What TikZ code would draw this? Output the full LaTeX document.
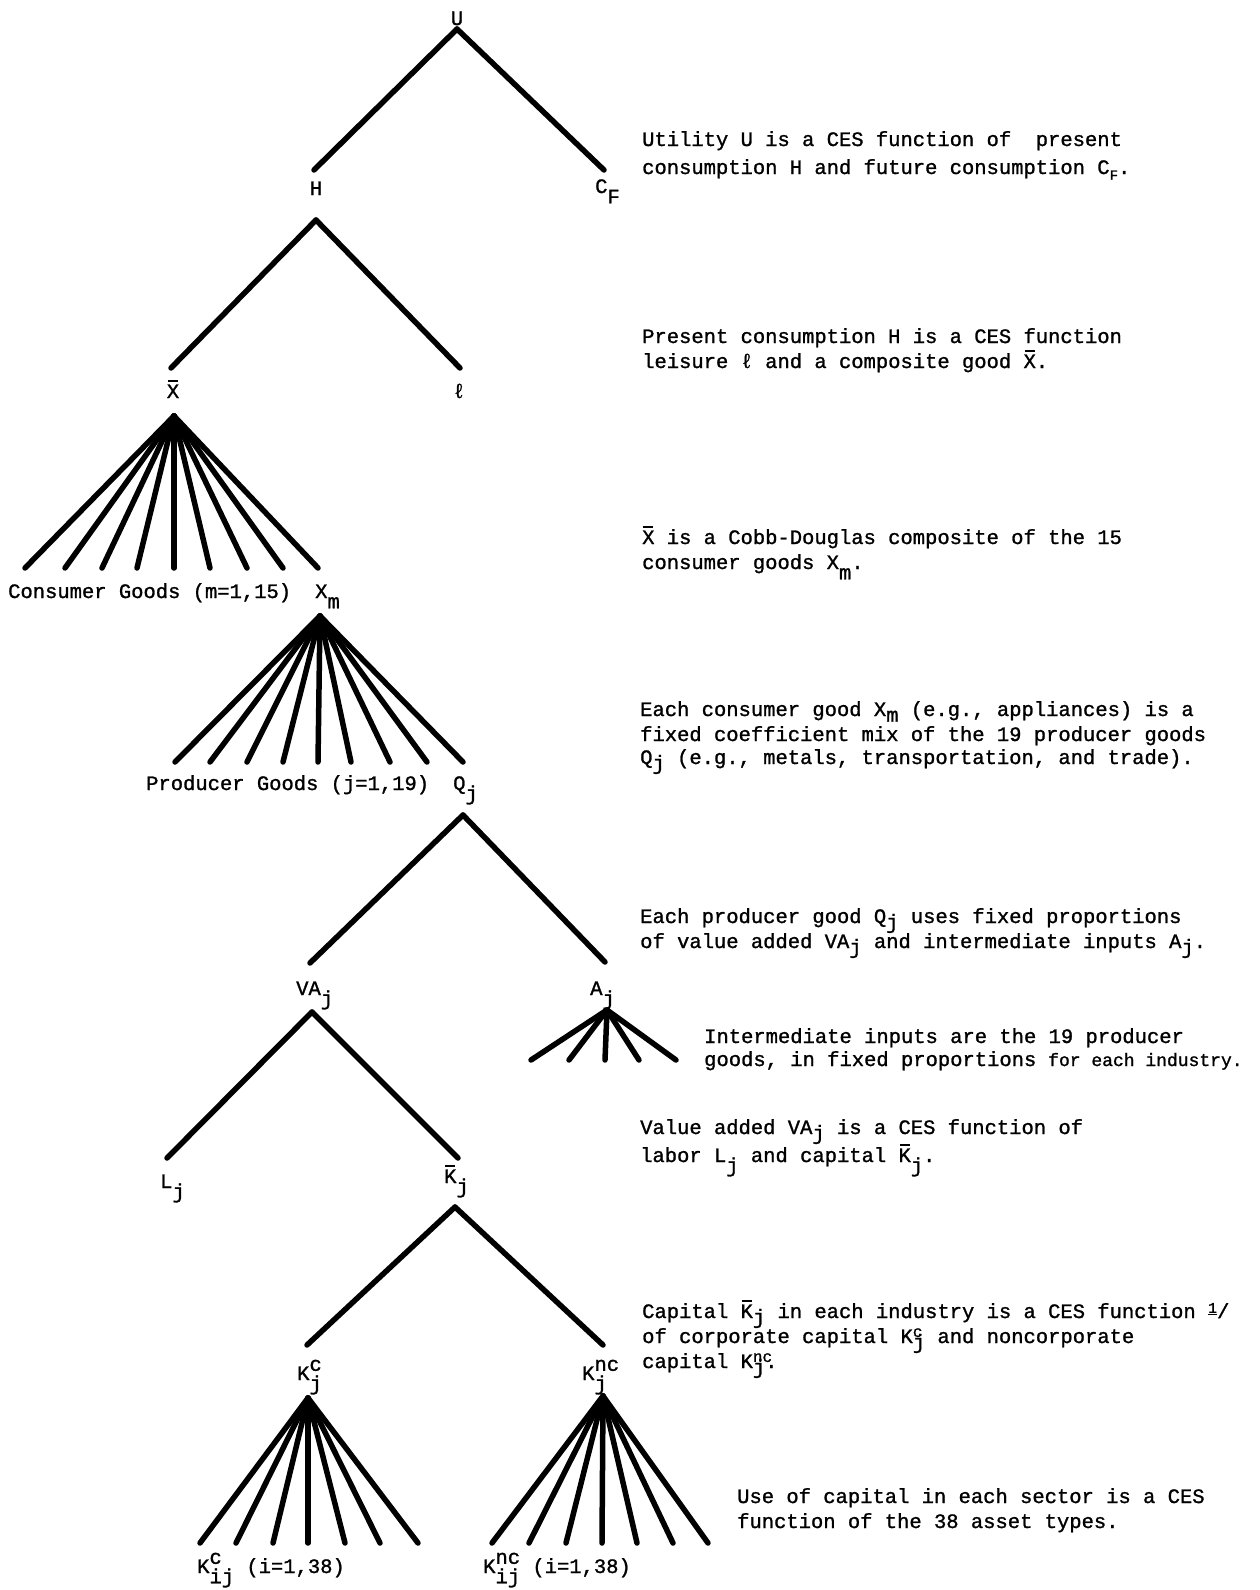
\documentclass[tikz,border=0pt]{standalone}
\usepackage{fontspec}
\newfontfamily\twfont[FakeBold=1.2]{Liberation Mono}
\newcommand\twr{\twfont\fontsize{20.5}{25}\selectfont}
\newcommand\twsm{\twfont\fontsize{18}{25}\selectfont}
\newcommand\dn[1]{\raisebox{-0.5em}{#1}}
\newcommand\up[1]{\raisebox{0.45em}{#1}}
\newcommand\sdn[1]{\raisebox{-0.28em}{#1}}
\newcommand\dup[1]{\raisebox{0.3em}{\fontsize{16}{16}\selectfont #1}}
\newcommand\ovl[1]{\leavevmode\rlap{\hspace{0.06em}\rule[0.8em]{0.48em}{2pt}}#1}
\newcommand\fnmark{\raisebox{0.25em}{\fontsize{15}{15}\selectfont\underline{1}}/}
\begin{document}
\begin{tikzpicture}[x=1pt,y=-1pt,
  edge/.style={line width=5.5pt,line cap=round},
  lbl/.style={inner sep=0pt,font=\twr,anchor=base west},
  desc/.style={inner sep=0pt,font=\twr,anchor=base west}]
\useasboundingbox (0,0) rectangle (1259,1590);

% ---------- tree labels ----------
\node[lbl,anchor=base] (U) at (457,25) {U};
\node[lbl,anchor=base] (H) at (316,195) {H};
\node[lbl] (CF) at (595,193) {C\dn{F}};
\node[lbl,anchor=base] (Xb) at (173,398) {\ovl{X}};
\node[lbl,anchor=base] (ell) at (459,398) {ℓ};
\node[lbl] (CG) at (8,598) {Consumer Goods (m=1,15)};
\node[lbl] (Xm) at (315,598) {X\dn{m}};
\node[lbl] (PG) at (146,790) {Producer Goods (j=1,19)};
\node[lbl] (Qj) at (453,790) {Q\dn{j}};
\node[lbl] (VAj) at (296,995) {VA\dn{j}};
\node[lbl] (Aj) at (590,995) {A\dn{j}};
\node[lbl] (Lj) at (160,1188) {L\dn{j}};
\node[lbl] (Kbj) at (444,1183) {\ovl{K}\dn{j}};
\node[lbl] (Kcj) at (297,1380) {K\rlap{\up{c}}\dn{j}};
\node[lbl] (Kncj) at (582,1380) {K\rlap{\up{nc}}\dn{j}};
\node[lbl] (Kcij) at (197,1573) {K\rlap{\up{c}}\dn{ij} (i=1,38)};
\node[lbl] (Kncij) at (483,1573) {K\rlap{\up{nc}}\dn{ij} (i=1,38)};

% ---------- tree connectors ----------
\coordinate (Ua) at (457,29);
\coordinate (He) at (314,170);
\coordinate (CFe) at (604,170);
\draw[edge] (Ua) -- (He);
\draw[edge] (Ua) -- (CFe);

\coordinate (Ha) at (316,220);
\coordinate (Xbe) at (171,368);
\coordinate (le) at (460,368);
\draw[edge] (Ha) -- (Xbe);
\draw[edge] (Ha) -- (le);

\coordinate (Xba) at (174,416);
\foreach \x [count=\i] in {25,65,102,137,174,210,247,283,318}{
  \coordinate (xf\i) at (\x,568);
  \draw[edge] (Xba) -- (xf\i);
}

\coordinate (Xma) at (320,616);
\foreach \x [count=\i] in {175,210,247,283,318,351,390,427,463}{
  \coordinate (mf\i) at (\x,762);
  \draw[edge] (Xma) -- (mf\i);
}

\coordinate (Qa) at (463,815);
\coordinate (VAe) at (310,963);
\coordinate (Ae) at (605,962);
\draw[edge] (Qa) -- (VAe);
\draw[edge] (Qa) -- (Ae);

\coordinate (VAa) at (312,1012);
\coordinate (Le) at (167,1158);
\coordinate (Kbe) at (458,1158);
\draw[edge] (VAa) -- (Le);
\draw[edge] (VAa) -- (Kbe);

\coordinate (Aa) at (607,1010);
\foreach \x [count=\i] in {531,569,605,639,676}{
  \coordinate (af\i) at (\x,1060);
  \draw[edge] (Aa) -- (af\i);
}

\coordinate (Kba) at (455,1207);
\coordinate (Kce) at (307,1345);
\coordinate (Knce) at (603,1345);
\draw[edge] (Kba) -- (Kce);
\draw[edge] (Kba) -- (Knce);

\coordinate (Kca) at (308,1398);
\foreach \x [count=\i] in {200,236,273,308,345,380,418}{
  \coordinate (cf\i) at (\x,1543);
  \draw[edge] (Kca) -- (cf\i);
}

\coordinate (Knca) at (603,1396);
\foreach \x [count=\i] in {492,529,566,602,637,673,708}{
  \coordinate (nf\i) at (\x,1543);
  \draw[edge] (Knca) -- (nf\i);
}

% ---------- descriptions ----------
\node[desc] (d1) at (642,146) {Utility U is a CES function of\ \ present};
\node[desc] (d2) at (642,174) {consumption H and future consumption C\sdn{\fontsize{14}{14}\selectfont F}.};
\node[desc] (d3) at (642,343) {Present consumption H is a CES function};
\node[desc] (d4) at (642,368) {leisure ℓ and a composite good \ovl{X}.};
\node[desc] (d5) at (642,544) {\ovl{X} is a Cobb-Douglas composite of the 15};
\node[desc] (d6) at (642,569) {consumer goods X\dn{m}.};
\node[desc] (d7) at (640,716) {Each consumer good X\sdn{m} (e.g., appliances) is a};
\node[desc] (d8) at (640,741) {fixed coefficient mix of the 19 producer goods};
\node[desc] (d9) at (640,764) {Q\sdn{j} (e.g., metals, transportation, and trade).};
\node[desc] (d10) at (640,923) {Each producer good Q\sdn{j} uses fixed proportions};
\node[desc] (d11) at (640,948) {of value added VA\sdn{j} and intermediate inputs A\sdn{j}.};
\node[desc] (d12) at (704,1043) {Intermediate inputs are the 19 producer};
\node[desc] (d13) at (704,1066) {goods, in fixed proportions};
\node[desc,font=\twsm] (d13b) at (1048,1066) {for each industry.};
\node[desc] (d14) at (640,1134) {Value added VA\sdn{j} is a CES function of};
\node[desc] (d15) at (640,1162) {labor L\dn{j} and capital \ovl{K}\dn{j}.};
\node[desc] (d16) at (642,1318) {Capital \ovl{K}\sdn{j} in each industry is a CES function \fnmark};
\node[desc] (d17) at (642,1343) {of corporate capital K\rlap{\dup{c}}\sdn{j} and noncorporate};
\node[desc] (d18) at (642,1368) {capital K\rlap{\dup{nc}}\sdn{j}.};
\node[desc] (d19) at (737,1503) {Use of capital in each sector is a CES};
\node[desc] (d20) at (737,1528) {function of the 38 asset types.};
\end{tikzpicture}
\end{document}
